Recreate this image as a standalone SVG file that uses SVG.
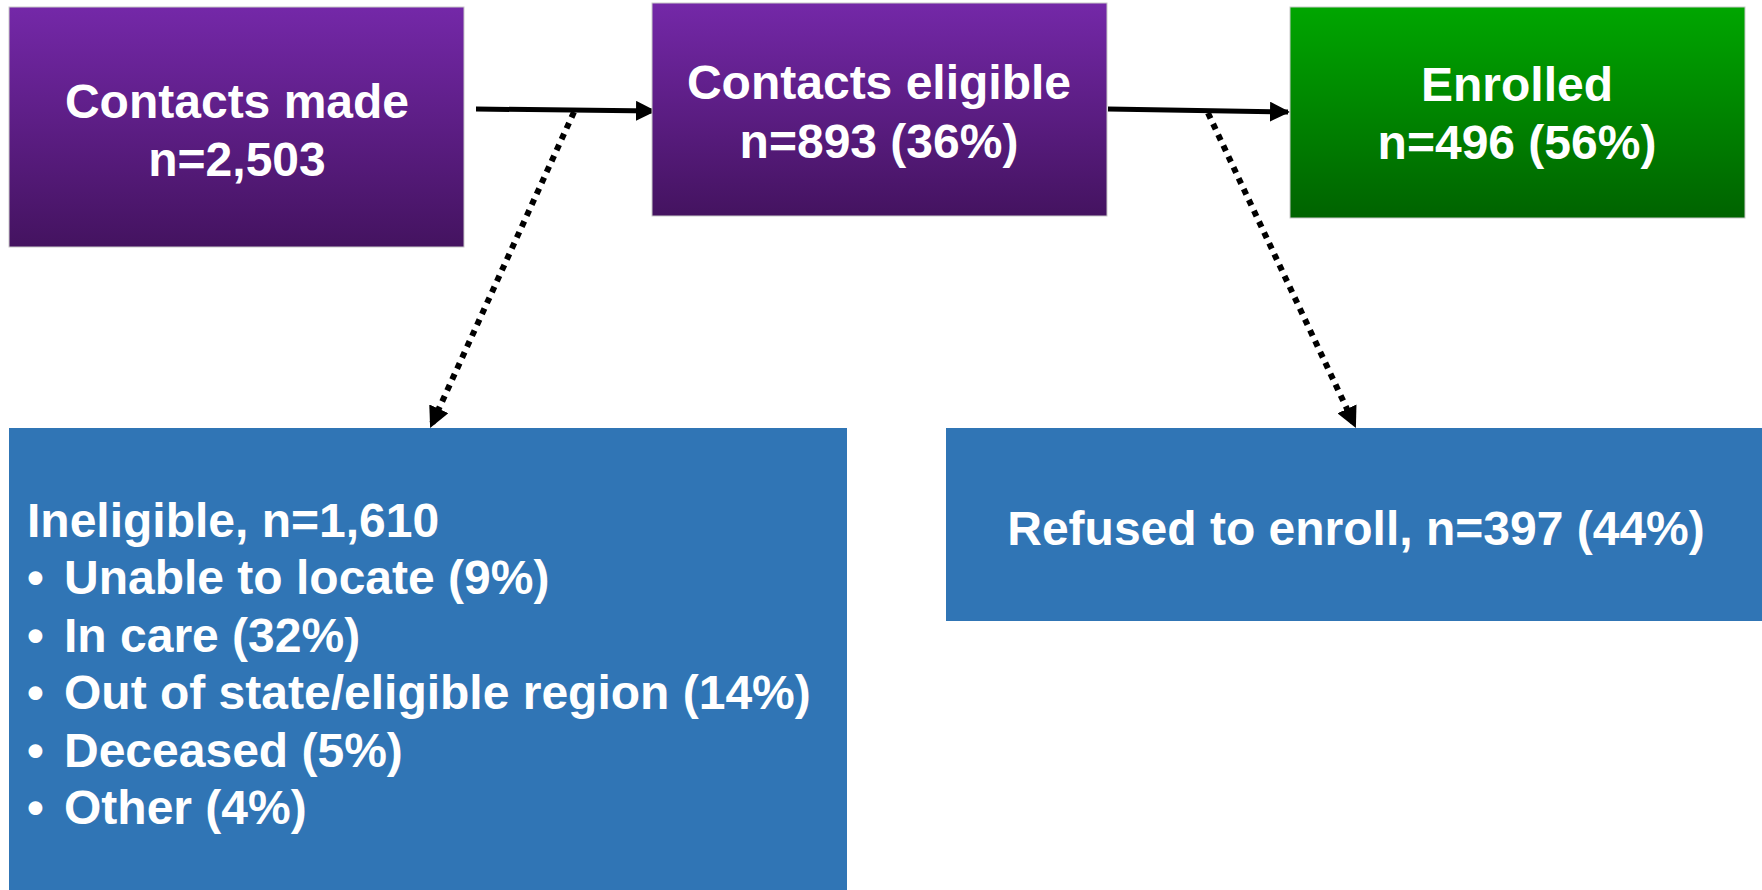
<svg xmlns="http://www.w3.org/2000/svg" width="1762" height="890" viewBox="0 0 1762 890">
<defs>
<linearGradient id="gPurple" x1="0" y1="0" x2="0" y2="1">
<stop offset="0" stop-color="#7428A8"/>
<stop offset="1" stop-color="#441360"/>
</linearGradient>
<linearGradient id="gGreen" x1="0" y1="0" x2="0" y2="1">
<stop offset="0" stop-color="#00A600"/>
<stop offset="1" stop-color="#006300"/>
</linearGradient>
<marker id="arr" viewBox="0 0 10 10" refX="9" refY="5" markerWidth="4" markerHeight="4" orient="auto" markerUnits="strokeWidth">
<path d="M0,0 L10,5 L0,10 Z" fill="#000"/>
</marker>
<marker id="arrD" viewBox="0 0 10 10" refX="9" refY="5" markerWidth="3.5" markerHeight="3.5" orient="auto" markerUnits="strokeWidth">
<path d="M0,0 L10,5 L0,10 Z" fill="#000"/>
</marker>
</defs>
<style>
.t{font-family:"Liberation Sans",Arial,sans-serif;font-weight:bold;font-size:48px;fill:#fff}
.c{text-anchor:middle}
.box{stroke:#c9c9c9;stroke-width:1}
.solid{stroke:#000;stroke-width:5;fill:none}
.dot{stroke:#000;stroke-width:6;fill:none;stroke-dasharray:6 6}
</style>
<rect width="1762" height="890" fill="#fff"/>
<g id="connectors">
<line class="solid" x1="476" y1="109" x2="654" y2="111" marker-end="url(#arr)"/>
<line class="solid" x1="1108" y1="109" x2="1288" y2="112" marker-end="url(#arr)"/>
<line class="dot" x1="574" y1="112" x2="431" y2="426" marker-end="url(#arrD)"/>
<line class="dot" x1="1208" y1="113" x2="1355" y2="426" marker-end="url(#arrD)"/>
</g>
<g id="contacts-made">
<rect class="box" x="9" y="7" width="455" height="240" fill="url(#gPurple)"/>
<text class="t c" x="237" y="118">Contacts made</text>
<text class="t c" x="237" y="176">n=2,503</text>
</g>
<g id="contacts-eligible">
<rect class="box" x="652" y="3" width="455" height="213" fill="url(#gPurple)"/>
<text class="t c" x="879" y="99">Contacts eligible</text>
<text class="t c" x="879" y="158">n=893 (36%)</text>
</g>
<g id="enrolled">
<rect class="box" x="1290" y="7" width="455" height="211" fill="url(#gGreen)"/>
<text class="t c" x="1517" y="101">Enrolled</text>
<text class="t c" x="1517" y="159">n=496 (56%)</text>
</g>
<g id="ineligible">
<rect x="9" y="428" width="838" height="462" fill="#3075B5"/>
<text class="t" x="27" y="537">Ineligible, n=1,610</text>
<text class="t" x="27" y="594">•</text><text class="t" x="64" y="594">Unable to locate (9%)</text>
<text class="t" x="27" y="652">•</text><text class="t" x="64" y="652">In care (32%)</text>
<text class="t" x="27" y="709">•</text><text class="t" x="64" y="709">Out of state/eligible region (14%)</text>
<text class="t" x="27" y="767">•</text><text class="t" x="64" y="767">Deceased (5%)</text>
<text class="t" x="27" y="824">•</text><text class="t" x="64" y="824">Other (4%)</text>
</g>
<g id="refused">
<rect x="946" y="428" width="816" height="193" fill="#3075B5"/>
<text class="t c" x="1356" y="545">Refused to enroll, n=397 (44%)</text>
</g>
</svg>
